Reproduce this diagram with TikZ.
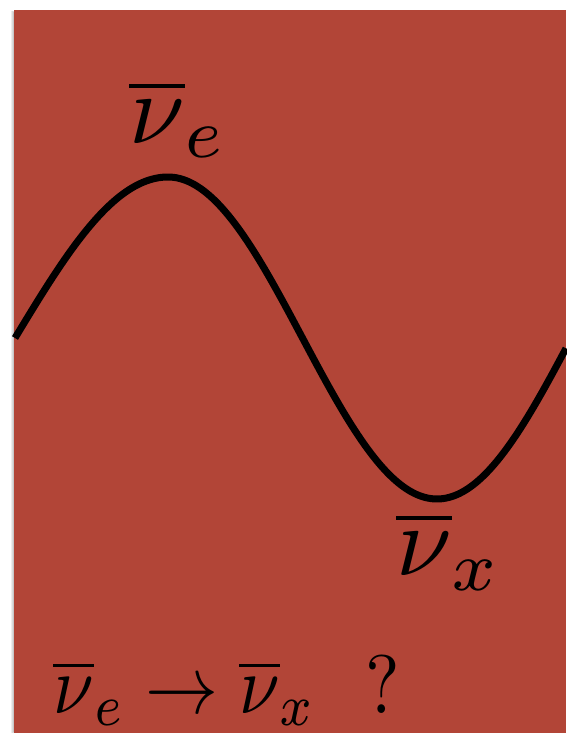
\documentclass[tikz,border=0pt]{standalone}
\definecolor{paper}{RGB}{178,69,55}
\begin{document}
\begin{tikzpicture}[x=1pt,y=-1pt,
  wave/.style={line width=7pt, black},
  biglbl/.style={anchor=base west, inner sep=0pt, scale=10},
  smalllbl/.style={anchor=base west, inner sep=0pt, xscale=7.3, yscale=8.3}]
\useasboundingbox (0,0) rectangle (566,733);
\fill[paper] (13.5,10) rectangle (566,733);
\shade[left color=white, right color=black!25] (10,12) rectangle (13.5,733);
\draw[wave] plot[domain=15:168,samples=60] (\x,{338-161*cos((168-\x)/153*90)})
  -- plot[domain=168:566,samples=150] (\x,{338-161*cos((\x-168)/269*180)});
\node[biglbl] (nue) at (127,143) {$\overline{\nu}_e$};
\node[biglbl] (nux) at (394,575) {$\overline{\nu}_x$};
\node[smalllbl] (question) at (52,713) {$\overline{\nu}_e \rightarrow \overline{\nu}_x \ \ ?$};
\end{tikzpicture}
\end{document}
